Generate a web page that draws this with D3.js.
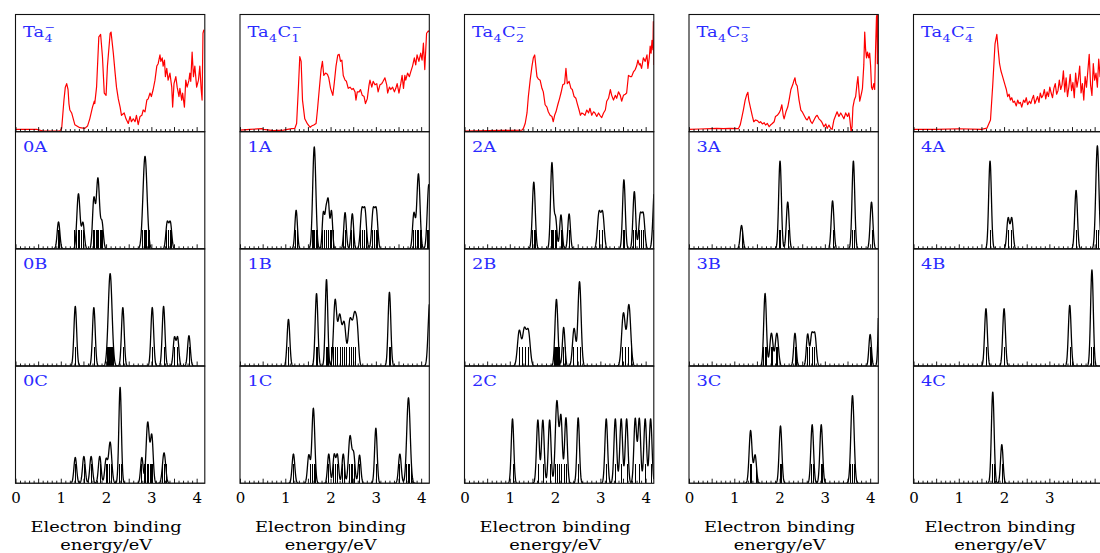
<!DOCTYPE html>
<html><head><meta charset="utf-8">
<script src="https://cdn.jsdelivr.net/npm/d3@7"></script>
<style>body{margin:0;background:#fff}svg{display:block}</style>
</head><body><svg id="chart" width="1100" height="553"></svg>
<script>
// ---------------- DATA ----------------
const energyTicks = [0, 1, 2, 3, 4];
const axisTitleLines = ["Electron binding", "energy/eV"];
const anionFormulas = [
  [["Ta", "4"]],
  [["Ta", "4"], ["C", "1"]],
  [["Ta", "4"], ["C", "2"]],
  [["Ta", "4"], ["C", "3"]],
  [["Ta", "4"], ["C", "4"]]
];
const anionCharge = "−";
const isomerLabels = [["0A","0B","0C"],["1A","1B","1C"],["2A","2B","2C"],["3A","3B","3C"],["4A","4B","4C"]];

// experimental photoelectron spectra: [binding energy (eV), intensity (% of panel)]
const expTa4 = [[0,2],[0.47,2],[0.61,0.6],[0.98,0.6],[1.02,3],[1.07,27],[1.10,38],[1.13,41],[1.16,36],[1.18,24],[1.20,18.5],[1.24,16],[1.31,6],[1.42,3.4],[1.53,2.8],[1.59,4.8],[1.64,11],[1.70,21],[1.74,26],[1.75,24],[1.79,38],[1.84,81],[1.88,83],[1.92,64],[1.96,33],[2.00,31],[2.03,56],[2.09,84],[2.11,85],[2.16,67],[2.20,50],[2.23,38],[2.27,28],[2.31,21],[2.34,14],[2.40,16],[2.44,11],[2.49,7],[2.53,13],[2.56,8.5],[2.60,11],[2.64,8.5],[2.67,14],[2.71,6],[2.75,13],[2.79,14],[2.82,18.5],[2.86,17],[2.90,27],[2.93,28],[2.97,33],[3.00,30],[3.04,36],[3.08,44],[3.12,56],[3.15,58],[3.19,65.5],[3.21,60],[3.24,63],[3.26,56],[3.29,61],[3.31,47],[3.34,54],[3.37,44],[3.41,50],[3.45,38],[3.47,21],[3.50,41],[3.54,47],[3.57,38],[3.61,30],[3.63,37],[3.67,27],[3.69,33],[3.73,21],[3.76,44],[3.79,38],[3.83,44],[3.85,50],[3.87,43],[3.90,68],[3.93,47],[3.96,56],[4.00,38],[4.04,44],[4.07,56],[4.10,36],[4.12,27],[4.14,84],[4.16,87]];
const expTa4C1 = [[0,1.4],[0.22,2],[0.48,2.6],[0.52,2],[0.74,0.9],[0.96,1.4],[1.14,2.6],[1.21,2.8],[1.25,7],[1.29,38],[1.32,64],[1.35,60],[1.38,27],[1.43,11],[1.49,6.6],[1.55,3.7],[1.58,4.8],[1.63,5.7],[1.68,7],[1.71,18.5],[1.75,36],[1.79,53],[1.82,60],[1.85,48],[1.89,50],[1.93,49],[1.96,46],[2.00,37],[2.05,31],[2.08,41],[2.12,56],[2.16,65.5],[2.19,66],[2.22,60],[2.25,61],[2.28,48],[2.32,44],[2.35,43],[2.39,37],[2.43,38],[2.47,36],[2.50,37],[2.54,34],[2.56,27],[2.59,34],[2.63,34],[2.66,36],[2.70,31],[2.74,30],[2.77,24],[2.81,28],[2.85,40],[2.87,44],[2.91,38],[2.94,43],[2.98,40],[3.02,41],[3.05,34],[3.09,40],[3.13,41],[3.16,43],[3.20,46],[3.24,40],[3.26,33],[3.30,38],[3.33,36],[3.37,38],[3.41,34],[3.44,37],[3.47,41],[3.51,33],[3.55,41],[3.58,48],[3.61,37],[3.64,48],[3.66,44],[3.70,50],[3.74,47],[3.77,51],[3.81,56],[3.85,63],[3.88,57],[3.91,65.5],[3.95,60],[3.99,67],[4.02,61],[4.05,75.5],[4.08,53],[4.12,84],[4.16,86],[4.17,85]];
const expTa4C2 = [[0,0.6],[0.53,0.9],[0.90,1.1],[1.27,1.4],[1.30,2.8],[1.34,7],[1.38,16],[1.41,30],[1.45,44],[1.49,56],[1.52,63],[1.55,65.5],[1.57,58],[1.60,47],[1.63,45],[1.67,44],[1.71,37],[1.74,34],[1.78,23],[1.82,21],[1.85,17],[1.89,14],[1.93,13],[1.96,8.5],[1.99,14],[2.02,17],[2.06,23],[2.10,28.5],[2.13,33],[2.17,40],[2.21,41],[2.24,54],[2.27,41],[2.31,43],[2.35,37],[2.38,36],[2.42,30],[2.46,28.5],[2.49,24],[2.53,18.5],[2.56,14],[2.59,16],[2.63,15],[2.66,14],[2.70,18.5],[2.74,16],[2.77,20],[2.81,14],[2.85,17],[2.88,16],[2.92,13],[2.96,16],[2.99,14],[3.03,12],[3.07,16],[3.11,18.5],[3.14,26],[3.18,28.5],[3.22,36],[3.25,31],[3.29,27],[3.33,31],[3.36,28.5],[3.40,34],[3.44,31],[3.47,26],[3.51,31],[3.55,32],[3.58,33],[3.62,48],[3.66,47],[3.69,47],[3.73,51],[3.77,53],[3.80,56],[3.83,61],[3.86,57],[3.88,58],[3.91,54],[3.95,63],[3.99,60],[4.03,65.5],[4.05,54],[4.08,63],[4.10,73],[4.12,67],[4.14,78],[4.16,70],[4.17,94],[4.18,57]];
const expTa4C3 = [[0,2],[0.24,2.3],[0.50,2.6],[0.61,2.8],[0.76,2.6],[0.91,2.8],[1.09,2.6],[1.13,5.7],[1.16,11],[1.20,18.5],[1.24,27],[1.27,31],[1.30,33.6],[1.32,27],[1.36,20],[1.40,13],[1.43,8.5],[1.47,10],[1.51,9.4],[1.55,7.7],[1.58,8.5],[1.62,6.6],[1.66,7.7],[1.69,5.7],[1.73,7],[1.77,4.3],[1.80,5.7],[1.84,7],[1.88,8.5],[1.91,13],[1.95,14],[1.99,16],[2.02,18.5],[2.05,23],[2.08,14],[2.10,11],[2.14,17],[2.18,21],[2.21,27],[2.25,36],[2.29,40],[2.32,44],[2.34,46],[2.36,41],[2.39,39],[2.43,27],[2.47,18.5],[2.50,17],[2.54,14],[2.58,11],[2.61,10],[2.65,13],[2.69,8.5],[2.72,7],[2.76,10],[2.80,13],[2.83,14],[2.87,11],[2.91,9.4],[2.94,7.7],[2.98,4.3],[3.02,6.6],[3.05,2.8],[3.09,5.7],[3.13,2.8],[3.16,2],[3.20,10],[3.24,14],[3.27,17],[3.31,13],[3.35,16],[3.38,14],[3.42,11],[3.46,16],[3.50,13],[3.53,16],[3.55,11],[3.58,0],[3.60,4.3],[3.62,21],[3.65,27],[3.68,30],[3.71,41],[3.73,47],[3.75,36],[3.77,26],[3.81,33],[3.83,37],[3.86,57],[3.88,85],[3.90,70],[3.92,63],[3.94,68],[3.97,63],[3.99,67],[4.01,56],[4.03,38],[4.05,36],[4.08,41],[4.10,36],[4.12,71],[4.14,98],[4.15,100],[4.16,58],[4.17,100],[4.18,67]];
const expTa4C4 = [[0,2],[0.5,2],[1.0,2.5],[1.5,2],[1.62,3],[1.70,10],[1.75,40],[1.80,75],[1.84,83],[1.87,70],[1.90,58],[1.93,52],[1.96,48],[1.99,44],[2.02,40],[2.05,36],[2.08,30],[2.11,32],[2.14,27],[2.17,29],[2.20,25],[2.23,26],[2.27,22],[2.30,27],[2.33,24],[2.36,25],[2.39,21],[2.43,27],[2.46,25],[2.49,29],[2.52,23],[2.56,26],[2.59,24],[2.62,28],[2.65,31],[2.68,24],[2.71,27],[2.74,30],[2.77,25],[2.80,33],[2.83,29],[2.86,31],[2.89,36],[2.92,28],[2.95,34],[2.98,30],[3.01,38],[3.04,33],[3.07,29],[3.10,37],[3.13,41],[3.16,32],[3.19,35],[3.22,44],[3.25,36],[3.28,40],[3.31,52],[3.34,34],[3.37,46],[3.40,30],[3.43,38],[3.46,49],[3.49,35],[3.52,42],[3.55,29],[3.58,50],[3.61,38],[3.64,45],[3.67,56],[3.70,33],[3.73,41],[3.76,27],[3.79,47],[3.82,38],[3.85,52],[3.88,66],[3.91,40],[3.94,31],[3.97,58],[4.00,44],[4.03,50],[4.06,38],[4.09,62],[4.12,47],[4.15,56]];

// simulated spectra: broadened peaks [centre eV, height %, width eV] and stick positions (eV)
const peaks0A = [[0.95,23,0.03],[1.39,47,0.035],[1.49,22,0.03],[1.73,42,0.03],[1.82,60,0.035],[1.91,22,0.03],[2.86,79,0.045],[3.35,22,0.03],[3.42,22,0.03]];
const peaks0B = [[1.32,51,0.03],[1.73,50,0.03],[2.09,79,0.042],[2.37,50,0.03],[3.02,50,0.03],[3.27,51,0.03],[3.51,24,0.028],[3.58,24,0.028],[3.83,26,0.03]];
const peaks0C = [[1.32,22,0.03],[1.51,23,0.03],[1.67,23,0.03],[1.86,23,0.03],[2.00,20,0.03],[2.09,35,0.035],[2.31,82,0.028],[2.79,22,0.028],[2.92,52,0.035],[3.01,40,0.03],[3.28,26,0.035]];
const peaks1A = [[1.24,33,0.028],[1.64,87,0.035],[1.84,30,0.025],[1.90,30,0.025],[1.95,38,0.025],[2.02,32,0.025],[2.32,31,0.028],[2.48,30,0.028],[2.69,32,0.032],[2.76,32,0.032],[2.94,32,0.032],[3.01,32,0.032],[3.84,30,0.03],[3.94,64,0.035],[4.17,55,0.035]];
const peaks1B = [[1.07,40,0.03],[1.69,62,0.03],[1.91,74,0.028],[2.10,55,0.035],[2.20,42,0.04],[2.30,36,0.04],[2.42,34,0.035],[2.47,18,0.03],[2.53,40,0.035],[2.59,28,0.03],[3.30,63,0.03],[4.19,55,0.035]];
const peaks1C = [[1.18,25,0.03],[1.52,24,0.03],[1.62,64,0.032],[1.96,25,0.028],[2.08,24,0.028],[2.15,24,0.028],[2.28,25,0.028],[2.43,40,0.035],[2.51,24,0.03],[2.64,24,0.028],[3.00,47,0.028],[3.53,25,0.03],[3.72,73,0.038]];
const peaks2A = [[1.53,57,0.032],[1.93,73,0.03],[2.01,26,0.03],[2.13,29,0.028],[2.31,30,0.028],[2.97,30,0.035],[3.05,30,0.035],[3.52,59,0.03],[3.75,49,0.03],[3.88,28,0.032],[3.95,28,0.032],[4.20,55,0.035]];
const peaks2B = [[1.21,30,0.04],[1.32,30,0.04],[1.41,29,0.04],[2.03,57,0.032],[2.19,33,0.028],[2.42,32,0.035],[2.54,72,0.035],[3.51,45,0.04],[3.63,52,0.04]];
const peaks2C = [[1.06,55,0.028],[1.62,54,0.03],[1.73,54,0.03],[1.88,54,0.03],[2.04,70,0.035],[2.13,56,0.03],[2.24,56,0.03],[2.51,56,0.028],[3.13,55,0.03],[3.33,55,0.03],[3.46,55,0.03],[3.58,55,0.03],[3.77,55,0.03],[3.86,55,0.03],[3.99,55,0.03],[4.11,55,0.03]];
const peaks3A = [[1.16,20,0.03],[2.01,75,0.03],[2.18,40,0.03],[3.17,41,0.03],[3.63,75,0.03],[4.03,40,0.03]];
const peaks3B = [[1.68,62,0.03],[1.82,28,0.035],[1.94,28,0.035],[2.34,28,0.028],[2.62,27,0.028],[2.71,26,0.032],[2.78,26,0.032],[4.00,27,0.028],[4.22,100,0.03]];
const peaks3C = [[1.36,45,0.032],[1.46,24,0.03],[2.02,49,0.03],[2.72,50,0.03],[2.92,50,0.03],[3.61,75,0.035]];
const peaks4A = [[1.69,75,0.03],[2.09,26,0.03],[2.17,26,0.03],[3.59,50,0.03],[4.06,88,0.035]];
const peaks4B = [[1.60,49,0.03],[2.00,49,0.03],[3.45,52,0.03],[3.94,82,0.03]];
const peaks4C = [[1.75,78,0.03],[1.95,33,0.028]];

const sticks0A = [0.94,0.97,1.30,1.34,1.38,1.41,1.45,1.48,1.71,1.74,1.77,1.80,1.83,1.86,1.89,1.92,2.80,2.83,2.86,2.89,2.92,2.95,3.33,3.37,3.41,3.44];
const sticks0B = [1.32,1.73,2.02,2.05,2.07,2.09,2.11,2.13,2.16,2.37,3.02,3.27,3.51,3.57,3.83];
const sticks0C = [1.32,1.51,1.67,1.86,1.99,2.03,2.07,2.11,2.29,2.32,2.78,2.84,2.87,2.90,2.93,2.96,2.99,3.02,3.24,3.28,3.32];
const sticks1A = [1.22,1.26,1.58,1.61,1.64,1.67,1.70,1.82,1.86,1.90,1.94,1.98,2.02,2.06,2.28,2.32,2.45,2.49,2.66,2.70,2.74,2.78,2.92,2.96,3.00,3.03,3.82,3.86,3.90,3.94,3.97,4.00,4.13,4.16];
const sticks1B = [1.07,1.67,1.70,1.89,1.92,1.95,2.00,2.05,2.10,2.15,2.20,2.25,2.30,2.35,2.40,2.45,2.50,2.55,3.28,3.31,4.17];
const sticks1C = [1.18,1.55,1.59,1.63,1.66,1.95,2.06,2.10,2.14,2.25,2.29,2.40,2.44,2.48,2.52,2.63,3.00,3.52,3.66,3.70,3.74,3.78];
const sticks2A = [1.50,1.53,1.56,1.90,1.93,1.96,1.99,2.02,2.12,2.15,2.30,2.97,3.03,3.50,3.53,3.73,3.76,3.86,3.90,3.95,4.17];
const sticks2B = [1.20,1.27,1.33,1.40,1.98,2.00,2.02,2.04,2.06,2.08,2.18,2.21,2.40,2.48,2.55,3.48,3.55,3.62,3.67];
const sticks2C = [1.06,1.62,1.73,1.88,2.00,2.04,2.08,2.13,2.20,2.24,2.51,3.13,3.33,3.46,3.58,3.77,3.86,3.99,4.11];
const sticks3A = [1.16,1.99,2.02,2.18,3.17,3.61,3.64,4.03];
const sticks3B = [1.63,1.67,1.70,1.80,1.84,1.92,1.95,2.33,2.36,2.60,2.66,2.72,2.77,3.99,4.02,4.17];
const sticks3C = [1.34,1.38,1.47,2.00,2.03,2.70,2.74,2.91,2.94,3.56,3.60,3.64];
const sticks4A = [1.69,2.08,2.15,3.58,4.04,4.08];
const sticks4B = [1.60,2.00,3.45,3.92,3.96];
const sticks4C = [1.73,1.77,1.95];
const stickHeight = 16.5;

// ---------------- LAYOUT ----------------
const X_MAX = 4.18, PANEL_W = 189.3, COL_STEP = 224.5, LEFT0 = 15.5, TOP0 = 14.5, ROW_H = 117.2;
const FONT = "'DejaVu Serif', serif";
const BLUE = "#2a2aff";
const STRETCH = 1.15;

const columns = [
  {formula: anionFormulas[0], exp: expTa4,   sims: [[peaks0A, sticks0A],[peaks0B, sticks0B],[peaks0C, sticks0C]], labels: isomerLabels[0], ticks: energyTicks},
  {formula: anionFormulas[1], exp: expTa4C1, sims: [[peaks1A, sticks1A],[peaks1B, sticks1B],[peaks1C, sticks1C]], labels: isomerLabels[1], ticks: energyTicks},
  {formula: anionFormulas[2], exp: expTa4C2, sims: [[peaks2A, sticks2A],[peaks2B, sticks2B],[peaks2C, sticks2C]], labels: isomerLabels[2], ticks: energyTicks},
  {formula: anionFormulas[3], exp: expTa4C3, sims: [[peaks3A, sticks3A],[peaks3B, sticks3B],[peaks3C, sticks3C]], labels: isomerLabels[3], ticks: energyTicks},
  {formula: anionFormulas[4], exp: expTa4C4, sims: [[peaks4A, sticks4A],[peaks4B, sticks4B],[peaks4C, sticks4C]], labels: isomerLabels[4], ticks: energyTicks.slice(0, 4)}
];

const svg = d3.select("#chart");
const defs = svg.append("defs");
const minorTicks = d3.range(0, 41).map(i => i / 10).filter(v => Math.round(v * 10) % 5 !== 0);
const majorTicks = d3.range(0, 9).map(i => i / 2);
const grid = d3.range(0, X_MAX + 1e-9, 0.004);

function drawFormula(parent, x, y, parts, charge) {
  const g = parent.append("g").attr("transform", `translate(${x},${y}) scale(${STRETCH},1)`)
    .attr("font-family", FONT).attr("fill", BLUE);
  let cx = 0, subX = 0;
  parts.forEach(([sym, n]) => {
    const t = g.append("text").attr("x", cx).attr("y", 0).attr("font-size", 15.5).text(sym);
    cx += t.node().getComputedTextLength();
    const s = g.append("text").attr("x", cx + 0.3).attr("y", 4.8).attr("font-size", 11).text(n);
    subX = cx + 0.3;
    cx += s.node().getComputedTextLength() + 0.8;
  });
  g.append("text").attr("x", subX).attr("y", -6.5).attr("font-size", 11).text(charge);
}

columns.forEach((col, c) => {
  const L = LEFT0 + c * COL_STEP;
  const x = d3.scaleLinear().domain([0, X_MAX]).range([L, L + PANEL_W]);
  for (let r = 0; r < 4; r++) {
    const y0 = TOP0 + r * ROW_H, y1 = y0 + ROW_H;
    const y = d3.scaleLinear().domain([0, 100]).range([y1, y0]);
    const id = `clip-${c}-${r}`;
    defs.append("clipPath").attr("id", id).append("rect")
      .attr("x", L).attr("y", y0).attr("width", PANEL_W).attr("height", ROW_H);
    const g = svg.append("g");
    const plot = g.append("g").attr("clip-path", `url(#${id})`);
    if (r === 0) {
      plot.append("path").datum(col.exp)
        .attr("d", d3.line().x(d => x(d[0])).y(d => y(d[1])))
        .attr("fill", "none").attr("stroke", "#ff0000").attr("stroke-width", 1.2)
        .attr("stroke-linejoin", "round");
      drawFormula(g, L + 7.5, y0 + 22.5, col.formula, anionCharge);
    } else {
      const [peaks, sticks] = col.sims[r - 1];
      plot.selectAll("line.stick").data(sticks).join("line")
        .attr("x1", d => Math.round(x(d)) + 0.5).attr("x2", d => Math.round(x(d)) + 0.5)
        .attr("y1", y(0)).attr("y2", y(stickHeight))
        .attr("stroke", "#000").attr("stroke-width", 1.2).attr("shape-rendering", "crispEdges");
      const spec = e => d3.sum(peaks, ([p, h, s]) => h * Math.exp(-((e - p) ** 2) / (2 * s * s)));
      plot.append("path").datum(grid)
        .attr("d", d3.line().x(e => x(e)).y(e => y(spec(e))))
        .attr("fill", "none").attr("stroke", "#000").attr("stroke-width", 1.3)
        .attr("stroke-linejoin", "round");
      g.append("g").attr("transform", `translate(${L + 7.5},${y0 + 20}) scale(${STRETCH},1)`)
        .append("text").attr("font-family", FONT).attr("font-size", 15.5).attr("fill", BLUE)
        .text(col.labels[r - 1]);
    }
    // inward ticks at the bottom of every panel
    const minorAxis = g.append("g").attr("transform", `translate(0,${y1})`)
      .call(d3.axisBottom(x).tickValues(minorTicks).tickSize(-2.6).tickFormat(""));
    const majorAxis = g.append("g").attr("transform", `translate(0,${y1})`)
      .call(d3.axisBottom(x).tickValues(majorTicks).tickSize(-4.6).tickFormat(""));
    [minorAxis, majorAxis].forEach(a => {
      a.select(".domain").remove();
      a.selectAll(".tick line").attr("stroke", "#000").attr("stroke-width", 0.9);
    });
    g.append("rect").attr("x", L).attr("y", y0).attr("width", PANEL_W).attr("height", ROW_H)
      .attr("fill", "none").attr("stroke", "#111").attr("stroke-width", 1.1);
  }
  // tick labels
  const yb = TOP0 + 4 * ROW_H;
  const lab = svg.append("g").attr("transform", `translate(0,${yb})`)
    .call(d3.axisBottom(x).tickValues(col.ticks).tickSize(0).tickPadding(9).tickFormat(d3.format("d")));
  lab.select(".domain").remove();
  lab.selectAll("text").attr("font-family", FONT).attr("font-size", 15).attr("fill", "#000");
  // axis title
  const cxm = L + PANEL_W / 2 - (c === 4 ? 8 : 4);
  axisTitleLines.forEach((t, i) => {
    svg.append("g").attr("transform", `translate(${cxm},${532 + i * 18}) scale(${STRETCH},1)`)
      .append("text").attr("text-anchor", "middle").attr("font-family", FONT)
      .attr("font-size", 15.5).attr("fill", "#000").text(t);
  });
});
</script></body></html>
